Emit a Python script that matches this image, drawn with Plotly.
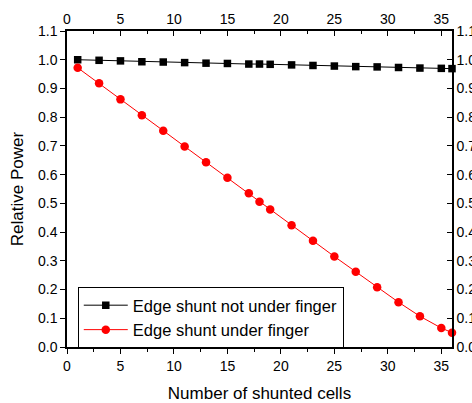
import plotly.graph_objects as go

cells = [1, 3, 5, 7, 9, 11, 13, 15, 17, 18, 19, 21, 23, 25, 27, 29, 31, 33, 35, 36]
not_under = [1.000, 0.998, 0.996, 0.993, 0.992, 0.990, 0.988, 0.987, 0.985, 0.985,
             0.984, 0.982, 0.980, 0.978, 0.976, 0.975, 0.973, 0.971, 0.970, 0.969]
under = [0.972, 0.918, 0.862, 0.807, 0.753, 0.698, 0.643, 0.589, 0.535, 0.506,
         0.479, 0.424, 0.370, 0.315, 0.262, 0.208, 0.156, 0.107, 0.066, 0.050]

FONT = "Liberation Sans, Arial, sans-serif"

fig = go.Figure()
fig.add_trace(go.Scatter(x=cells, y=not_under, mode="lines+markers",
                         name="Edge shunt not under finger",
                         line=dict(color="black", width=1),
                         marker=dict(symbol="square", size=7.5, color="black"),
                         cliponaxis=False))
fig.add_trace(go.Scatter(x=cells, y=under, mode="lines+markers",
                         name="Edge shunt under finger",
                         line=dict(color="red", width=1),
                         marker=dict(symbol="circle", size=8.5, color="red"),
                         cliponaxis=False))
# invisible trace to activate top / right axes
fig.add_trace(go.Scatter(x=[0], y=[0], xaxis="x2", yaxis="y2", mode="markers",
                         marker=dict(opacity=0), showlegend=False, hoverinfo="skip"))

fig.update_layout(
    width=472, height=403,
    margin=dict(l=67, r=20, t=31, b=56),
    paper_bgcolor="white", plot_bgcolor="white",
    font=dict(family=FONT, size=14, color="black"),
    showlegend=True,
    legend=dict(x=0.028, y=0.19, xanchor="left", yanchor="top",
                bordercolor="black", borderwidth=1, bgcolor="white",
                font=dict(family=FONT, size=16.5, color="black"),
                tracegroupgap=0, itemwidth=44),
    xaxis=dict(range=[0, 36], dtick=5, tick0=0, showgrid=False, zeroline=False,
               automargin=False,
               showline=True, linecolor="black", linewidth=1.5,
               ticks="outside", ticklen=5, tickwidth=1, tickcolor="black",
               minor=dict(dtick=2.5, ticks="outside", ticklen=3, tickcolor="black"),
               tickfont=dict(size=14),
               title=dict(text="Number of shunted cells", font=dict(size=17), standoff=18)),
    yaxis=dict(range=[0, 1.1], dtick=0.1, tick0=0, showgrid=False, zeroline=False,
               automargin=False,
               showline=True, linecolor="black", linewidth=1.5,
               ticks="outside", ticklen=5, tickwidth=1, tickcolor="black",
               tickformat=".1f", tickfont=dict(size=14),
               title=dict(text="Relative Power", font=dict(size=17), standoff=10)),
    xaxis2=dict(overlaying="x", side="top", range=[0, 36], dtick=5, tick0=0,
                automargin=False,
                showgrid=False, zeroline=False, showline=True, linecolor="black",
                linewidth=1.5, ticks="inside", ticklen=5, tickcolor="black",
                minor=dict(dtick=2.5, ticks="inside", ticklen=3, tickcolor="black"),
                tickfont=dict(size=14)),
    yaxis2=dict(overlaying="y", side="right", range=[0, 1.1], dtick=0.1, tick0=0,
                automargin=False,
                showgrid=False, zeroline=False, showline=True, linecolor="black",
                linewidth=1.5, ticks="inside", ticklen=5, tickcolor="black",
                tickformat=".1f", tickfont=dict(size=14)),
)

fig.write_html("out.html")
